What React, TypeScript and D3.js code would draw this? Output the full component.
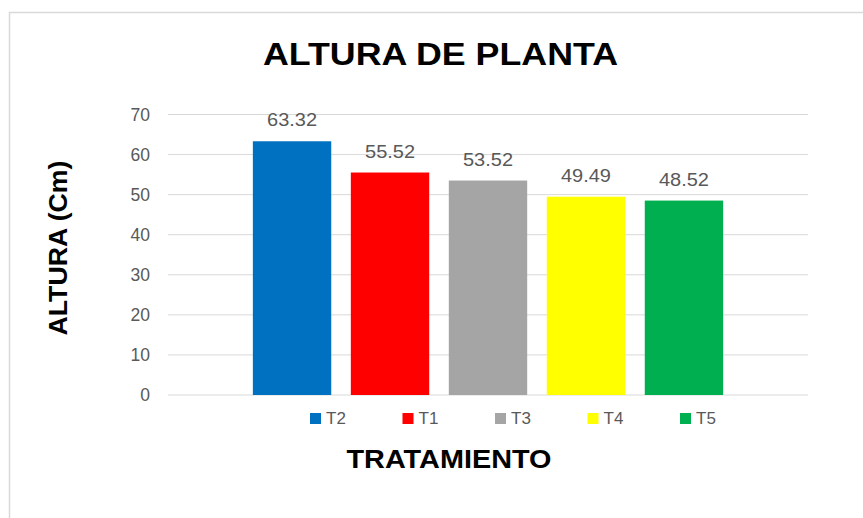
import React from "react";
import * as d3 from "d3";

const categories = ["T2", "T1", "T3", "T4", "T5"];
const values = [63.32, 55.52, 53.52, 49.49, 48.52];
const colors = ["#0070C0", "#FF0000", "#A5A5A5", "#FFFF00", "#00B050"];
const yTicks = [0, 10, 20, 30, 40, 50, 60, 70];

export default function App() {
  const W = 863, H = 518;
  const left = 168, right = 808, top = 114.5, bottom = 395;
  const y = d3.scaleLinear().domain([0, 70]).range([bottom, top]);
  const x = d3.scaleBand().domain(categories).range([left, right]).paddingInner(0.2).paddingOuter(0.866);
  const legendX = d3.scalePoint().domain(categories).range([310, 680]);
  const font = "'Liberation Sans', Arial, sans-serif";
  return (
    <svg width={W} height={H} style={{ position: "absolute", left: 0, top: 0, display: "block" }} fontFamily={font}>
      <rect x={0} y={0} width={W} height={H} fill="#fff" />
      <rect x={9.5} y={12.5} width={W + 10} height={H + 10} fill="#fff" stroke="#d9d9d9" strokeWidth={1.5} />
      <text x={440.5} y={65} textAnchor="middle" fontSize={31} fontWeight="bold" fill="#000" textLength={355} lengthAdjust="spacingAndGlyphs">ALTURA DE PLANTA</text>
      {yTicks.map((t) => (
        <g key={t}>
          <line x1={left} x2={right} y1={y(t)} y2={y(t)} stroke="#d9d9d9" strokeWidth={1} />
          <text x={150} y={y(t)} dy="0.35em" textAnchor="end" fontSize={17.5} fill="#595959">{t}</text>
        </g>
      ))}
      {categories.map((c, i) => (
        <g key={c}>
          <rect x={x(c)} y={y(values[i])} width={x.bandwidth()} height={y(0) - y(values[i])} fill={colors[i]} />
          <text x={(x(c) as number) + x.bandwidth() / 2} y={y(values[i]) - 15} textAnchor="middle" fontSize={17.5} fill="#595959" textLength={50} lengthAdjust="spacingAndGlyphs">{values[i].toFixed(2)}</text>
        </g>
      ))}
      {categories.map((c, i) => (
        <g key={"l" + c}>
          <rect x={legendX(c)} y={413} width={11} height={11} fill={colors[i]} />
          <text x={(legendX(c) as number) + 16} y={418.5} dy="0.35em" fontSize={17} fill="#595959">{c}</text>
        </g>
      ))}
      <text x={449} y={468} textAnchor="middle" fontSize={26} fontWeight="bold" fill="#000" textLength={205} lengthAdjust="spacingAndGlyphs">TRATAMIENTO</text>
      <text transform="translate(67,248) rotate(-90)" textAnchor="middle" fontSize={25} fontWeight="bold" fill="#000" textLength={175} lengthAdjust="spacingAndGlyphs">ALTURA (Cm)</text>
    </svg>
  );
}
